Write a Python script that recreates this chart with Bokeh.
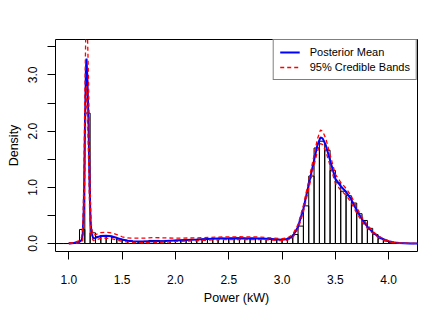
import numpy as np
from bokeh.plotting import figure
from bokeh.models import Range1d, FixedTicker, Legend, LegendItem, ColumnDataSource
from bokeh.embed import file_html
from bokeh.resources import INLINE

# ---------------- data ----------------
bin_width = 0.05
bin_first_left = 0.85
hist_density = [
    0.0, 0.0, 0.0,                    # 0.85-1.00
    0.01, 0.02, 0.25, 2.32, 0.19,     # 1.00-1.25
    0.12, 0.13, 0.13, 0.11, 0.08,     # 1.25-1.50
    0.06, 0.045, 0.035, 0.035, 0.04,  # 1.50-1.75
    0.055, 0.055, 0.045, 0.05, 0.055, # 1.75-2.00
    0.06, 0.06, 0.065, 0.07, 0.075,   # 2.00-2.25
    0.08, 0.085, 0.09, 0.095, 0.09,   # 2.25-2.50
    0.095, 0.10, 0.095, 0.09, 0.095,  # 2.50-2.75
    0.09, 0.085, 0.08, 0.075, 0.07,   # 2.75-3.00
    0.07, 0.10, 0.16, 0.31, 0.67,     # 3.00-3.25
    1.20, 1.70, 1.82, 1.66, 1.30,     # 3.25-3.50
    1.08, 0.93, 0.85, 0.72, 0.53,     # 3.50-3.75
    0.41, 0.27, 0.16, 0.086, 0.045,   # 3.75-4.00
    0.02, 0.01, 0.005, 0.003, 0.002,  # 4.00-4.25
    0.0,                              # 4.25-4.30
]

power_grid = [1.00, 1.05, 1.10, 1.12, 1.13, 1.14, 1.15, 1.16, 1.166, 1.175,
              1.185, 1.195, 1.205, 1.215, 1.23, 1.25, 1.30, 1.35, 1.40, 1.45,
              1.50, 1.55, 1.60, 1.70, 1.80, 1.90, 2.00, 2.20, 2.40, 2.60,
              2.80, 2.90, 3.00, 3.05, 3.10, 3.15, 3.20, 3.25, 3.27, 3.30,
              3.33, 3.36, 3.38, 3.41, 3.45, 3.50, 3.55, 3.60, 3.65, 3.70,
              3.75, 3.80, 3.85, 3.90, 3.95, 4.00, 4.05, 4.10, 4.20, 4.30]
posterior_mean = [0.000, 0.010, 0.030, 0.060, 0.150, 0.600, 1.900, 3.100, 3.290, 2.900,
                  2.100, 1.000, 0.350, 0.170, 0.090, 0.100, 0.135, 0.140, 0.130, 0.100,
                  0.070, 0.050, 0.040, 0.035, 0.040, 0.045, 0.055, 0.070, 0.088, 0.092,
                  0.090, 0.080, 0.068, 0.080, 0.130, 0.300, 0.620, 1.050, 1.220, 1.480,
                  1.740, 1.890, 1.870, 1.750, 1.480, 1.150, 1.020, 0.920, 0.780, 0.590,
                  0.430, 0.300, 0.200, 0.125, 0.075, 0.040, 0.018, 0.008, 0.002, 0.000]
band_lower = [0.000, 0.003, 0.010, 0.020, 0.060, 0.300, 1.300, 2.500, 2.800, 2.300,
              1.500, 0.600, 0.200, 0.100, 0.050, 0.060, 0.090, 0.095, 0.085, 0.060,
              0.040, 0.025, 0.020, 0.015, 0.020, 0.025, 0.035, 0.050, 0.068, 0.072,
              0.070, 0.062, 0.050, 0.060, 0.105, 0.260, 0.560, 0.980, 1.140, 1.390,
              1.630, 1.780, 1.760, 1.640, 1.390, 1.070, 0.950, 0.860, 0.720, 0.540,
              0.390, 0.270, 0.180, 0.110, 0.065, 0.034, 0.014, 0.006, 0.001, 0.000]
band_upper = [0.005, 0.020, 0.050, 0.110, 0.300, 1.000, 2.600, 3.900, 4.100, 3.700,
              2.900, 1.500, 0.550, 0.260, 0.150, 0.160, 0.195, 0.200, 0.190, 0.160,
              0.120, 0.100, 0.095, 0.095, 0.105, 0.100, 0.095, 0.100, 0.115, 0.120,
              0.115, 0.100, 0.085, 0.100, 0.160, 0.340, 0.680, 1.120, 1.300, 1.570,
              1.850, 2.020, 2.000, 1.870, 1.580, 1.230, 1.090, 0.980, 0.840, 0.640,
              0.470, 0.330, 0.220, 0.140, 0.085, 0.047, 0.022, 0.011, 0.003, 0.001]

x_ticks = [1.0, 1.5, 2.0, 2.5, 3.0, 3.5, 4.0]
x_tick_labels = ["1.0", "1.5", "2.0", "2.5", "3.0", "3.5", "4.0"]
y_ticks = [0.0, 0.5, 1.0, 1.5, 2.0, 2.5, 3.0, 3.5]
y_tick_labels = ["0.0", "", "1.0", "", "2.0", "", "3.0", ""]

# ---------------- figure ----------------
FONT = "Liberation Sans"
p = figure(width=425, height=307, output_backend="svg", toolbar_location=None,
           x_range=Range1d(0.875, 4.27), y_range=Range1d(-0.142, 3.63),
           min_border_left=55, min_border_right=8, min_border_top=39, min_border_bottom=48,
           x_axis_label="Power (kW)", y_axis_label="Density")
p.grid.visible = False
p.outline_line_color = "black"
p.outline_line_width = 1
p.background_fill_color = "white"

lefts = bin_first_left + bin_width * np.arange(len(hist_density))
hist_src = ColumnDataSource(dict(left=lefts, right=lefts + bin_width,
                                 top=hist_density, bottom=np.zeros(len(hist_density))))
p.quad(left="left", right="right", top="top", bottom="bottom", source=hist_src,
       fill_color=None, line_color="black", line_width=1)

mean_r = p.line(power_grid, posterior_mean, line_color="blue", line_width=2)
up_r = p.line(power_grid, band_upper, line_color="red", line_width=1.3, line_dash="4 3")
lo_r = p.line(power_grid, band_lower, line_color="red", line_width=1.3, line_dash="4 3")

for ax, ticks, labels in ((p.xaxis[0], x_ticks, x_tick_labels), (p.yaxis[0], y_ticks, y_tick_labels)):
    ax.ticker = FixedTicker(ticks=ticks)
    ax.major_label_overrides = {t: l for t, l in zip(ticks, labels)}
    ax.minor_tick_line_color = None
    ax.major_tick_in = 0
    ax.major_tick_out = 8
    ax.major_tick_line_color = "black"
    ax.axis_line_color = None
    ax.major_label_text_font = FONT
    ax.major_label_text_font_size = "12px"
    ax.major_label_text_color = "black"
    ax.axis_label_text_font = FONT
    ax.axis_label_text_font_size = "12.5px"
    ax.axis_label_text_font_style = "normal"
    ax.axis_label_text_color = "black"

p.xaxis[0].major_label_standoff = 15
p.xaxis[0].axis_label_standoff = 4
p.yaxis[0].major_label_orientation = "vertical"
p.yaxis[0].major_label_standoff = 10
p.yaxis[0].axis_label_standoff = 5

legend = Legend(items=[LegendItem(label="Posterior Mean", renderers=[mean_r]),
                       LegendItem(label="95% Credible Bands", renderers=[up_r])],
                location="top_right", margin=0, padding=6, spacing=3,
                label_height=12, glyph_height=12, glyph_width=20, label_standoff=10,
                border_line_color="black", border_line_width=1,
                background_fill_color="white", background_fill_alpha=1,
                label_text_font=FONT, label_text_font_size="11px", label_text_color="black")
p.add_layout(legend)

open("out.html", "w").write(file_html(p, INLINE))
